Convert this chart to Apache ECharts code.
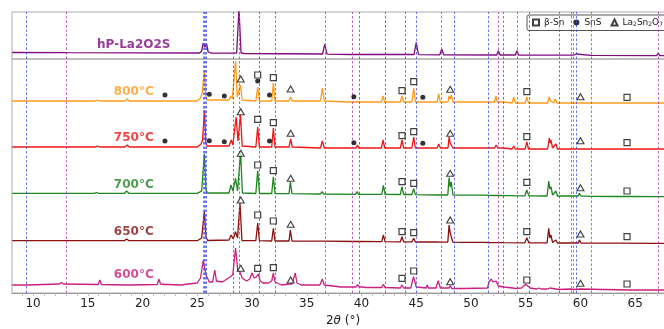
<!DOCTYPE html>
<html>
<head>
<meta charset="utf-8">
<script src="https://cdn.jsdelivr.net/npm/echarts@6/dist/echarts.min.js"></script>
<style>
  html, body { margin: 0; padding: 0; background: #fff; }
  #chart { width: 664px; height: 329px; }
</style>
</head>
<body>
<div id="chart"></div>
<script>
// 2theta range visible in the crop
const X_MIN = 8.08;
const X_MAX = 68.54;

const tickLabels = [10, 15, 20, 25, 30, 35, 40, 45, 50, 55, 60, 65];
const minorTicks = [9, 10, 11, 12, 13, 14, 15, 16, 17, 18, 19, 20, 21, 22, 23, 24, 25, 26, 27, 28, 29, 30,
  31, 32, 33, 34, 35, 36, 37, 38, 39, 40, 41, 42, 43, 44, 45, 46, 47, 48, 49, 50, 51, 52, 53, 54, 55,
  56, 57, 58, 59, 60, 61, 62, 63, 64, 65, 66, 67];

// reference positions (dashed lines)
const blueLines = [9.36, 25.64, 25.82, 28.29, 30.64, 32.1, 39.8, 42.2, 43.95, 44.98, 48.5, 51.55, 52.98, 55.3, 58.04, 59.65];
const purpleLines = [12.99, 25.55, 25.73, 28.81, 36.67, 39.2, 47.3, 52.5, 54.2, 59.16, 59.35, 61.0, 67.1];

// top panel: reference pattern
const refPattern = [
  [8.1, 6.5], [12.85, 6.4], [12.99, 8.3], [13.15, 6.3], [25.2, 6], [25.4, 8], [25.55, 16], [25.7, 12], [25.85, 15],
  [26.0, 7], [26.3, 5.8], [28.6, 6], [28.81, 50], [29.0, 6], [29.3, 5.5], [36.45, 5], [36.64, 14.7], [36.85, 4.8],
  [39.05, 4.5], [39.17, 6.3], [39.3, 4.5], [44.8, 4.5], [45.0, 16.7], [45.2, 4.4], [47.15, 4.2], [47.33, 10],
  [47.5, 4.2], [52.35, 4], [52.5, 8.3], [52.65, 4], [54.05, 4], [54.2, 8.3], [54.35, 3.8], [59.05, 3.8],
  [59.2, 5], [59.35, 3.8], [59.5, 3.8], [59.6, 5], [59.7, 3.8], [60.9, 3.7], [61.0, 5.5], [61.1, 3.6],
  [66.95, 3.4], [67.1, 6], [67.25, 3.4], [68.6, 3.3]
];

const p800 = [
  [8.1, 192], [9.2, 192], [9.36, 193], [9.5, 192], [15.7, 192], [15.9, 193], [16.1, 192], [18.4, 192], [18.6, 194],
  [18.8, 192], [25.0, 192], [25.3, 195], [25.45, 200], [25.56, 198], [25.66, 223], [25.78, 197], [25.9, 193],
  [27.9, 193], [28.05, 197], [28.2, 194], [28.35, 196], [28.5, 232], [28.65, 196], [28.8, 198], [28.95, 208],
  [29.1, 193], [30.35, 192], [30.52, 206], [30.68, 192], [31.8, 192], [31.95, 210], [32.1, 192], [33.38, 192],
  [33.53, 196], [33.68, 192], [36.25, 192], [36.42, 205], [36.6, 192], [38.85, 191], [38.98, 193], [39.1, 191],
  [39.5, 191], [39.62, 193], [39.75, 191], [41.82, 191], [41.97, 197], [42.12, 191], [43.55, 191], [43.7, 197],
  [43.85, 191], [44.6, 191], [44.77, 205], [44.92, 191], [46.9, 191], [47.05, 199], [47.2, 191], [47.9, 191],
  [48.0, 197], [48.1, 194], [48.2, 198], [48.35, 191], [49.2, 191], [49.3, 192], [49.4, 191], [51.25, 191],
  [51.37, 193], [51.5, 191], [52.15, 191], [52.28, 197], [52.4, 191], [52.7, 191], [52.83, 193], [52.95, 191],
  [53.75, 190], [53.9, 196], [54.05, 190], [54.95, 190], [55.1, 196], [55.25, 190], [57.0, 190], [57.13, 196],
  [57.25, 192], [57.35, 191], [57.55, 190], [57.7, 194], [57.85, 190], [58.95, 190], [59.05, 191], [59.15, 190],
  [59.88, 190], [60.0, 192], [60.1, 190], [60.65, 190], [60.75, 191], [60.85, 190], [64.1, 190], [64.25, 191],
  [64.4, 190], [66.85, 190], [67.0, 192], [67.15, 190], [68.6, 190]
];

const p750 = [
  [8.1, 146], [9.2, 146], [9.36, 147], [9.5, 146], [15.7, 146], [15.9, 147], [16.1, 146], [18.4, 146], [18.6, 148],
  [18.8, 146], [25.0, 146], [25.35, 149], [25.48, 153], [25.56, 151], [25.66, 183], [25.78, 150], [25.9, 147],
  [27.9, 147], [28.1, 153], [28.25, 148], [28.4, 150], [28.55, 176], [28.72, 152], [28.8, 154], [28.95, 178],
  [29.1, 147], [30.35, 146], [30.52, 166], [30.68, 146], [31.8, 146], [31.95, 165], [32.1, 146], [33.38, 146],
  [33.53, 154], [33.68, 146], [36.25, 145], [36.42, 152], [36.6, 145], [38.85, 145], [38.98, 146.5], [39.1, 145],
  [39.5, 145], [39.62, 148], [39.75, 145], [41.82, 145], [41.97, 153], [42.12, 145], [43.55, 145], [43.7, 153],
  [43.85, 145], [44.6, 145], [44.77, 156], [44.92, 145], [46.9, 145], [47.05, 149], [47.2, 145], [47.9, 145],
  [48.0, 156], [48.1, 150], [48.2, 152], [48.35, 145], [49.2, 145], [49.3, 146], [49.4, 145], [51.25, 145],
  [51.4, 147], [51.55, 145], [52.15, 145], [52.3, 148], [52.45, 145], [52.7, 145], [52.83, 146], [52.95, 145],
  [53.75, 144], [53.9, 147], [54.05, 144], [54.95, 144], [55.1, 151], [55.25, 144], [57.0, 144], [57.15, 155],
  [57.23, 150], [57.3, 153], [57.45, 145], [57.6, 144], [57.75, 149], [57.9, 144], [58.95, 144], [59.05, 146],
  [59.15, 144], [59.88, 144], [60.0, 146], [60.1, 144], [60.65, 144], [60.75, 145], [60.85, 144], [64.0, 144],
  [64.1, 145], [64.2, 144], [66.85, 144], [67.0, 146], [67.15, 144], [68.6, 144]
];

const p700 = [
  [8.1, 99.7], [9.2, 99.7], [9.36, 101], [9.5, 99.7], [15.6, 99.7], [15.8, 100.5], [16.0, 99.7], [18.35, 99.7],
  [18.55, 102], [18.75, 99.7], [25.0, 99.7], [25.4, 102], [25.65, 139], [25.8, 103], [25.95, 100], [27.9, 100],
  [28.08, 108], [28.25, 102], [28.5, 114.5], [28.68, 102], [28.96, 141], [29.12, 100], [30.35, 99.5],
  [30.52, 122.5], [30.68, 99.5], [31.8, 99.5], [31.95, 116.3], [32.1, 99.5], [33.38, 99.3], [33.5, 111],
  [33.65, 99.3], [36.25, 99], [36.4, 101.3], [36.55, 99], [39.45, 98.7], [39.6, 101.3], [39.75, 98.7],
  [41.85, 98.7], [42.0, 107.7], [42.15, 98.7], [43.55, 98.5], [43.7, 106.3], [43.85, 98.5], [44.6, 98.5],
  [44.77, 104.4], [44.92, 98.3], [46.9, 98], [47.05, 98.7], [47.2, 98], [47.88, 98], [48.0, 115.3], [48.1, 106],
  [48.2, 111], [48.35, 98], [49.15, 97.8], [49.3, 99], [49.45, 97.8], [51.25, 97.8], [51.4, 99.7], [51.55, 97.6],
  [52.15, 97.5], [52.3, 98], [52.45, 97.5], [52.7, 97.5], [52.8, 98.7], [52.95, 97.4], [53.75, 97.3], [53.9, 98],
  [54.05, 97.2], [54.92, 97.2], [55.1, 103], [55.28, 97.2], [56.95, 97], [57.1, 112], [57.2, 104], [57.3, 106.3],
  [57.45, 98], [57.6, 97], [57.75, 102], [57.9, 97], [58.95, 97], [59.05, 97.3], [59.15, 97], [59.8, 97],
  [59.9, 99.7], [60.05, 97], [60.65, 96.8], [60.75, 98], [60.85, 96.7], [63.3, 96.5], [63.4, 97.3], [63.5, 96.5],
  [64.1, 96.5], [64.2, 98], [64.3, 96.5], [66.7, 96.3], [66.8, 98], [66.9, 96.3], [68.6, 96.3]
];

const p650 = [
  [8.1, 52.3], [9.2, 52.3], [9.36, 53.5], [9.5, 52.3], [18.35, 52.3], [18.55, 54], [18.75, 52.3], [25.0, 52.3],
  [25.4, 55], [25.65, 81.3], [25.8, 56], [25.95, 52.5], [27.9, 53], [28.1, 58], [28.28, 54], [28.5, 61.3],
  [28.68, 55], [28.9, 90], [29.08, 52.5], [30.35, 52.3], [30.52, 70], [30.68, 52.3], [31.8, 52], [31.95, 64.7],
  [32.1, 52], [33.38, 52], [33.5, 63], [33.65, 52], [36.25, 51.8], [36.4, 53], [36.55, 51.8], [39.55, 51.5],
  [39.7, 53], [39.85, 51.5], [41.85, 51.3], [42.0, 58], [42.15, 51.3], [43.55, 51.2], [43.7, 56.3], [43.85, 51.2],
  [44.6, 51.1], [44.77, 54.7], [44.92, 51], [46.9, 51], [47.05, 52], [47.2, 50.9], [47.88, 50.9], [48.0, 68],
  [48.1, 60], [48.2, 62], [48.35, 50.8], [49.15, 50.7], [49.3, 51], [49.45, 50.6], [51.25, 50.6], [51.4, 51],
  [51.55, 50.5], [52.7, 50.4], [52.8, 50.5], [52.95, 50.3], [54.92, 50.2], [55.1, 55.3], [55.28, 50.2],
  [56.95, 50.1], [57.1, 64.7], [57.2, 55], [57.3, 58], [57.45, 50.5], [57.6, 50], [57.75, 53], [57.9, 50],
  [59.8, 50], [59.9, 53], [60.05, 49.9], [63.3, 49.8], [63.4, 50.7], [63.5, 49.8], [66.7, 49.7], [66.8, 50.7],
  [66.9, 49.7], [68.6, 49.7]
];

const p600 = [
  [8.1, 8], [9.2, 8], [9.36, 9.5], [9.5, 8], [12.4, 9], [12.6, 10.5], [12.8, 9], [15.95, 8.5], [16.1, 13],
  [16.25, 8.5], [18.4, 8], [18.55, 9.7], [18.7, 8], [21.35, 8.5], [21.5, 13.7], [21.65, 9], [22.05, 8.5],
  [22.2, 10.5], [22.35, 8.5], [23.6, 8], [23.7, 9], [23.8, 8.5], [25.0, 10], [25.3, 15], [25.55, 33], [25.64, 34],
  [25.8, 18], [26.1, 11], [26.4, 11], [26.6, 23], [26.75, 12], [27.3, 11], [27.7, 14], [28.0, 16], [28.24, 18],
  [28.5, 45], [28.7, 22], [28.9, 21], [29.1, 15], [29.5, 12], [29.8, 14], [30.0, 20], [30.2, 15], [30.4, 16],
  [30.58, 19], [30.75, 12], [31.0, 10], [31.5, 10], [31.8, 12], [31.95, 20], [32.1, 11], [32.7, 8], [33.4, 9],
  [33.5, 11], [33.65, 9], [33.8, 11], [33.95, 20], [34.1, 10], [34.5, 8], [36.2, 8], [36.42, 14], [36.6, 8],
  [37.8, 6.5], [37.95, 8], [38.1, 6], [38.9, 6], [39.05, 7], [39.2, 6], [39.5, 6], [39.65, 8.3], [39.8, 6],
  [40.1, 6], [40.25, 7], [40.4, 5.5], [41.85, 5.5], [42.0, 8.7], [42.15, 5.5], [43.55, 5], [43.7, 8], [43.85, 5],
  [44.5, 5], [44.75, 16.3], [45.0, 6], [45.9, 5], [46.0, 8], [46.1, 5], [46.8, 5], [47.0, 12.3], [47.2, 5],
  [48.0, 5], [48.1, 7.3], [48.25, 4.5], [49.2, 4.5], [49.3, 5.5], [49.4, 4.5], [51.5, 5], [51.65, 11], [51.85, 14],
  [52.0, 11], [52.15, 10], [52.3, 12], [52.5, 7], [53.0, 6], [53.8, 5], [53.9, 6.5], [54.1, 4.5], [54.6, 5],
  [55.0, 8.7], [55.4, 5], [56.0, 4], [56.2, 5], [56.4, 4], [57.0, 4], [57.2, 5], [58.0, 3.5], [59.1, 4], [59.2, 5],
  [59.35, 3.5], [60.0, 4], [60.1, 3.5], [62.0, 3.5], [62.1, 5], [62.2, 3.5], [64.6, 3], [64.7, 4.5], [64.85, 3],
  [65.8, 3], [65.9, 4.5], [66.0, 3], [66.9, 3], [67.0, 5], [67.15, 3], [68.6, 3]
];

// phase markers
const betaSn = [
  [30.52, 218], [31.95, 215.3], [43.7, 202.3], [44.77, 211.3], [55.1, 201.3], [64.25, 195.7],
  [30.52, 173.7], [31.95, 170.3], [43.7, 157.3], [44.77, 161.3], [55.1, 156.3], [64.25, 150.3],
  [30.52, 128], [31.95, 122.3], [43.7, 111.3], [44.77, 109.7], [55.1, 110.7], [64.25, 102],
  [30.52, 78], [31.95, 72], [43.7, 61.3], [44.77, 60.3], [55.1, 61.3], [64.25, 56.3],
  [30.52, 24.7], [31.95, 25.3], [43.7, 14.7], [44.77, 22], [55.1, 13], [64.25, 9]
];
const snS = [
  [22.05, 198], [26.1, 198.7], [27.47, 197], [30.52, 212], [31.6, 198], [39.3, 196.3], [45.6, 195.7],
  [22.05, 152], [26.1, 152.3], [27.47, 151.3], [31.6, 152], [39.3, 150.3], [45.6, 149.7]
];
const la2sn2o7 = [
  [28.97, 214], [33.53, 204], [48.1, 203.7], [60.0, 196.3],
  [28.97, 181.3], [33.53, 159.7], [48.1, 159.7], [60.0, 152.3],
  [28.97, 139.7], [33.53, 114.7], [48.1, 119.7], [60.0, 105.3],
  [28.97, 93], [33.53, 68.7], [48.1, 73], [60.0, 59],
  [28.97, 24.7], [33.53, 13], [48.1, 11.3], [60.0, 9.7]
];

const sampleNames = ['800°C', '750°C', '700°C', '650°C', '600°C'];
const sampleLabelY = [201.3, 155, 108, 61.3, 18];
const sampleColors = ['#ff9a1a', '#f01414', '#1e861e', '#8b1010', '#cc1f80'];
const sampleData = [p800, p750, p700, p650, p600];
const refName = 'hP-La2O2S';
const refColor = '#800a80';
const LABEL_X = 19.2;

const FONT = 'DejaVu Sans';

const vLines = blueLines.map(v => ({ xAxis: v, lineStyle: { color: '#4050e8' } }))
  .concat(purpleLines.map(v => ({ xAxis: v, lineStyle: { color: '#b040b0' } })));

const markLineOpt = {
  silent: true,
  symbol: ['none', 'none'],
  label: { show: false },
  lineStyle: { type: [2.5, 2], width: 0.8 },
  data: vLines
};

const chart = echarts.init(document.getElementById('chart'), null, { renderer: 'canvas' });

const series = [];
series.push({
  type: 'line', name: refName, xAxisIndex: 0, yAxisIndex: 0, data: refPattern,
  showSymbol: false, lineStyle: { color: refColor, width: 1.3 }, z: 3,
  markLine: markLineOpt
});
series.push({
  type: 'scatter', xAxisIndex: 0, yAxisIndex: 0, symbolSize: 0, silent: true,
  data: [[LABEL_X, 14]],
  label: {
    show: true, position: 'inside', formatter: refName, color: refColor,
    fontFamily: FONT, fontWeight: 'bold', fontSize: 12
  }
});
sampleData.forEach((d, i) => {
  series.push({
    type: 'line', name: sampleNames[i], xAxisIndex: 1, yAxisIndex: 1, data: d,
    showSymbol: false, lineStyle: { color: sampleColors[i], width: 1.3 }, z: 3,
    markLine: i === 0 ? markLineOpt : undefined
  });
});
series.push({
  type: 'scatter', xAxisIndex: 1, yAxisIndex: 1, symbolSize: 0, silent: true,
  data: sampleNames.map((n, i) => ({
    value: [LABEL_X, sampleLabelY[i]],
    label: { formatter: n, color: sampleColors[i] }
  })),
  label: { show: true, position: 'inside', fontFamily: FONT, fontWeight: 'bold', fontSize: 12 }
});
series.push({
  type: 'scatter', name: 'β-Sn', xAxisIndex: 1, yAxisIndex: 1, data: betaSn,
  symbol: 'rect', symbolSize: 6, z: 5,
  itemStyle: { color: '#fff', borderColor: '#111', borderWidth: 1.2 }
});
series.push({
  type: 'scatter', name: 'SnS', xAxisIndex: 1, yAxisIndex: 1, data: snS,
  symbol: 'circle', symbolSize: 5, z: 5,
  itemStyle: { color: '#000' }
});
series.push({
  type: 'scatter', name: 'La2Sn2O7', xAxisIndex: 1, yAxisIndex: 1, data: la2sn2o7,
  symbol: 'triangle', symbolSize: [7, 6], z: 5,
  itemStyle: { color: '#fff', borderColor: '#111', borderWidth: 1.1 }
});

chart.setOption({
  animation: false,
  backgroundColor: '#fff',
  textStyle: { fontFamily: FONT },
  grid: [
    { left: 12, right: -10, top: 12, height: 47, show: true, borderColor: '#aaa', borderWidth: 1, backgroundColor: 'transparent', outerBoundsMode: 'none', containLabel: false },
    { left: 12, right: -10, top: 59, height: 234, show: true, borderColor: '#aaa', borderWidth: 1, backgroundColor: 'transparent', outerBoundsMode: 'none', containLabel: false }
  ],
  legend: {
    data: ['β-Sn', 'SnS', 'La2Sn2O7'],
    left: 527, top: 15, width: 240,
    padding: [3, 8, 3, 5],
    itemWidth: 6, itemHeight: 6, itemGap: 9,
    borderColor: '#555', borderWidth: 1, borderRadius: 2,
    backgroundColor: '#fff',
    textStyle: {
      fontFamily: FONT, fontSize: 9, color: '#222',
      rich: { s: { fontSize: 6, fontFamily: FONT, color: '#222', verticalAlign: 'bottom', padding: [4, 0, 0, 0] } }
    },
    formatter: n => n === 'La2Sn2O7' ? 'La{s|2}Sn{s|2}O{s|7}' : n
  },
  xAxis: [
    {
      type: 'value', gridIndex: 0, min: X_MIN, max: X_MAX,
      axisLine: { show: false }, axisTick: { show: false }, axisLabel: { show: false }, splitLine: { show: false }
    },
    {
      type: 'value', gridIndex: 1, min: X_MIN, max: X_MAX,
      axisLine: { show: true, lineStyle: { color: '#999', width: 1 } },
      axisTick: { show: true, customValues: minorTicks, length: 3, lineStyle: { color: '#bbb' } },
      axisLabel: { customValues: tickLabels, color: '#222', fontSize: 12, fontFamily: FONT, margin: 5 },
      splitLine: { show: false },
      name: '2{i|θ} (°)', nameLocation: 'middle', nameGap: 21,
      nameTextStyle: {
        fontFamily: FONT, fontSize: 12, color: '#222', verticalAlign: 'top',
        rich: { i: { fontStyle: 'italic', fontFamily: FONT, fontSize: 12, color: '#222' } }
      }
    }
  ],
  yAxis: [
    { type: 'value', gridIndex: 0, min: 0, max: 47, show: false },
    { type: 'value', gridIndex: 1, min: 0, max: 234, show: false }
  ],
  series: series
});
</script>
</body>
</html>
